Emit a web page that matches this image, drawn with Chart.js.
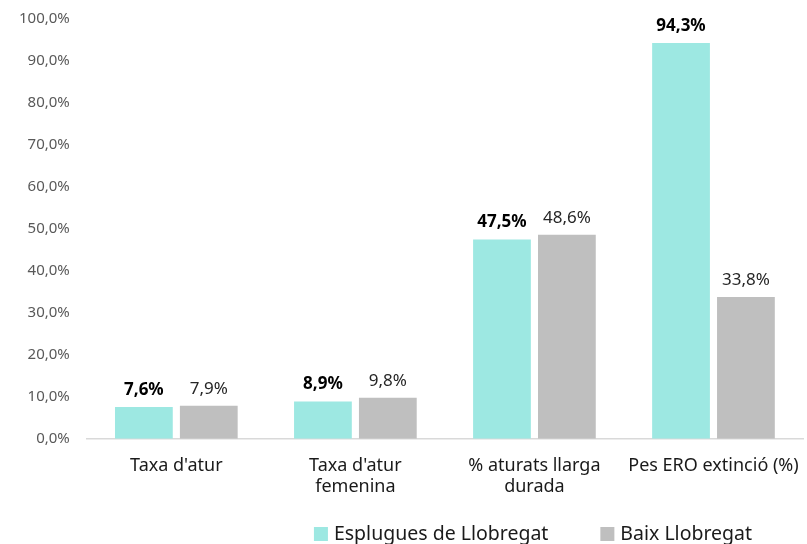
<!DOCTYPE html>
<html lang="ca">
<head>
    <meta charset="UTF-8">
    <title>Atur</title>
    <script src="https://cdn.jsdelivr.net/npm/chart.js"></script>
    <style>
        html, body { margin: 0; padding: 0; background: #fff; }
        #wrap { width: 807px; height: 544px; }
    </style>
</head>
<body>
    <div id="wrap"><canvas id="grafic"></canvas></div>
    <script>
        const categories = ["Taxa d'atur", ["Taxa d'atur", "femenina"], ["% aturats llarga", "durada"], "Pes ERO extinció (%)"];
        const series = ["Esplugues de Llobregat", "Baix Llobregat"];
        const esplugues = [7.6, 8.9, 47.5, 94.3];
        const baix = [7.9, 9.8, 48.6, 33.8];
        const yTicks = { min: 0, max: 100, step: 10 };

        const FONT = "'Noto Sans', sans-serif";

        function pct(v)
        {
            return v.toFixed(1).replace('.', ',') + '%';
        }

        // etiquetes sobre les barres
        const valueLabels =
        {
            id: 'valueLabels',
            afterDatasetsDraw(chart)
            {
                const ctx = chart.ctx;
                chart.data.datasets.forEach((ds, i) =>
                {
                    const meta = chart.getDatasetMeta(i);
                    ctx.save();
                    ctx.font = (i === 0 ? 'bold ' : '') + '17px ' + FONT;
                    ctx.fillStyle = i === 0 ? '#000' : '#262626';
                    ctx.textAlign = 'center';
                    ctx.textBaseline = 'alphabetic';
                    meta.data.forEach((bar, j) =>
                    {
                        ctx.fillText(pct(ds.data[j]), bar.x, bar.y - 12);
                    });
                    ctx.restore();
                });
            }
        };

        // llegenda a mida (desplaçada a la dreta com a l'original)
        const bottomLegend =
        {
            id: 'bottomLegend',
            afterDraw(chart)
            {
                const ctx = chart.ctx;
                const cy = chart.height - 10;
                const box = 14, gapText = 6, gapItem = 52;
                ctx.save();
                ctx.font = '19.5px ' + FONT;
                ctx.textBaseline = 'middle';
                ctx.textAlign = 'left';
                const items = chart.data.datasets.map(ds => ({ text: ds.label, color: ds.backgroundColor, w: ctx.measureText(ds.label).width }));
                let total = items.reduce((s, it) => s + box + gapText + it.w, 0) + gapItem * (items.length - 1);
                let x = 533 - total / 2;
                items.forEach(it =>
                {
                    ctx.fillStyle = it.color;
                    ctx.fillRect(x, cy - box / 2, box, box);
                    ctx.fillStyle = '#1a1a1a';
                    ctx.fillText(it.text, x + box + gapText, cy);
                    x += box + gapText + it.w + gapItem;
                });
                ctx.restore();
            }
        };

        new Chart(document.getElementById('grafic'),
        {
            type: 'bar',
            data:
            {
                labels: categories,
                datasets:
                [{
                    label: series[0],
                    data: esplugues,
                    backgroundColor: '#9de8e2',
                    categoryPercentage: 0.725,
                    barPercentage: 0.89
                },
                {
                    label: series[1],
                    data: baix,
                    backgroundColor: '#bfbfbf',
                    categoryPercentage: 0.725,
                    barPercentage: 0.89
                }]
            },
            options:
            {
                responsive: true,
                maintainAspectRatio: false,
                animation: false,
                layout: { padding: { top: 19, right: 4, left: 2, bottom: 30 } },
                plugins:
                {
                    tooltip: { enabled: false },
                    legend: { display: false }
                },
                scales:
                {
                    x:
                    {
                        grid: { display: false, drawTicks: false },
                        border: { display: true, color: '#d9d9d9', width: 1.5 },
                        ticks:
                        {
                            font: { family: FONT, size: 18, lineHeight: 1.2 },
                            color: '#1a1a1a',
                            padding: 16,
                            maxRotation: 0
                        },
                        afterFit: s => { s.paddingLeft = 0; s.paddingRight = 0; }
                    },
                    y:
                    {
                        min: yTicks.min,
                        max: yTicks.max,
                        grid: { display: false, drawTicks: false },
                        border: { display: false },
                        ticks:
                        {
                            stepSize: yTicks.step,
                            font: { family: FONT, size: 15 },
                            color: '#595959',
                            padding: 17,
                            callback: v => pct(v)
                        },
                        afterFit: s => { s.paddingTop = 0; s.paddingBottom = 0; }
                    }
                }
            },
            plugins: [valueLabels, bottomLegend]
        });
    </script>
</body>
</html>
